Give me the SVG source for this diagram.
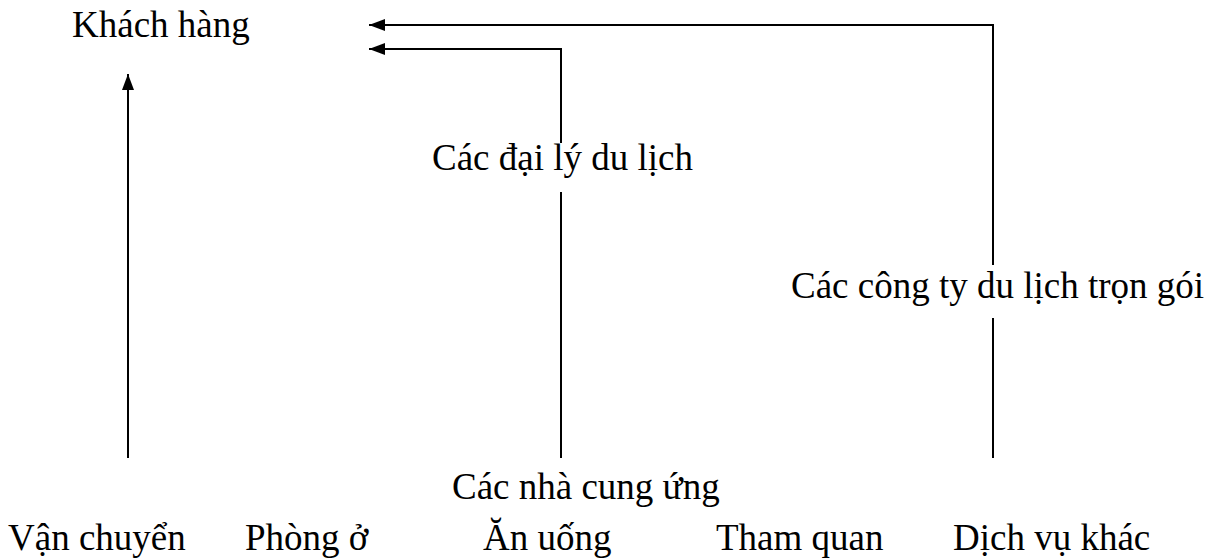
<svg xmlns="http://www.w3.org/2000/svg" width="1217" height="560" viewBox="0 0 1217 560">
<style>
text{font-family:"Liberation Serif","Times New Roman",serif;font-size:37px;fill:#000}
.ln{stroke:#000;stroke-width:2;fill:none}
</style>
<defs>
<marker id="ah" markerWidth="16" markerHeight="12" refX="16" refY="6" orient="auto" markerUnits="userSpaceOnUse">
<path d="M0,0 L16,6 L0,12 Z" fill="#000"/>
</marker>
</defs>
<rect width="1217" height="560" fill="#fff"/>
<g id="connectors">
<path class="ln" d="M128,458 L128,74" marker-end="url(#ah)"/>
<path class="ln" d="M993,265 L993,25 L369,25" marker-end="url(#ah)"/>
<path class="ln" d="M993,318 L993,458"/>
<path class="ln" d="M561,143 L561,49 L369,49" marker-end="url(#ah)"/>
<path class="ln" d="M561,192 L561,458"/>
</g>
<g id="khach-hang"><text x="72" y="37">Khách hàng</text></g>
<g id="dai-ly"><text x="432" y="170">Các đại lý du lịch</text></g>
<g id="cong-ty"><text x="791" y="298">Các công ty du lịch trọn gói</text></g>
<g id="nha-cung-ung"><text x="452" y="499">Các nhà cung ứng</text></g>
<g id="van-chuyen"><text x="8" y="550">Vận chuyển</text></g>
<g id="phong-o"><text x="245" y="550">Phòng ở</text></g>
<g id="an-uong"><text x="483" y="550">Ăn uống</text></g>
<g id="tham-quan"><text x="716" y="550">Tham quan</text></g>
<g id="dich-vu-khac"><text x="953" y="550">Dịch vụ khác</text></g>
</svg>
